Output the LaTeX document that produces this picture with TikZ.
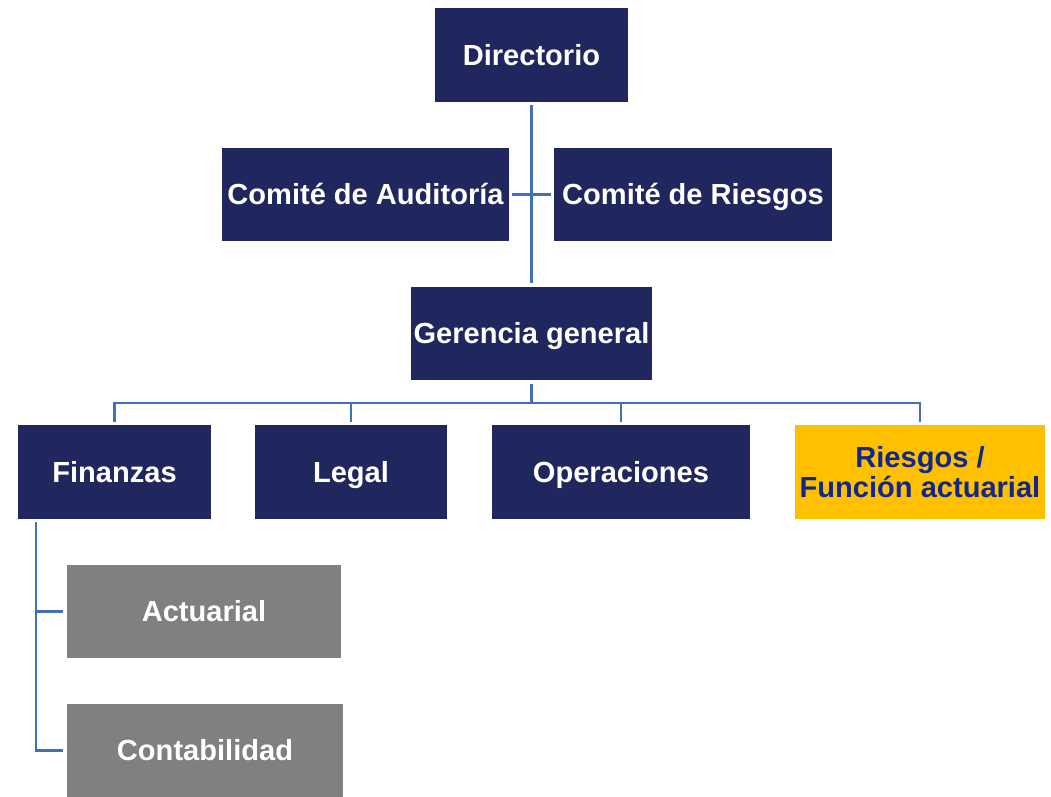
\documentclass[tikz,border=0pt]{standalone}
\usepackage{fontspec}
\setmainfont{Liberation Sans}
\definecolor{navy}{HTML}{20265E}
\definecolor{linkblue}{HTML}{4170B8}
\definecolor{boxgray}{HTML}{808080}
\definecolor{amber}{HTML}{FFC000}
\definecolor{inkblue}{HTML}{10288C}

\begin{document}
\begin{tikzpicture}[x=0.75pt,y=-0.75pt,
	box/.style={inner sep=0pt,align=center,minimum height=70pt,
		text height=16pt,text depth=0.5pt,
		font=\fontsize{21.8}{22.5}\selectfont\bfseries,text=white,fill=navy},
	subbox/.style={box,fill=boxgray},
	keybox/.style={box,fill=amber,text=inkblue,text height={},text depth={}},
	conn/.style={draw=linkblue,line width=2.2pt,shorten <=2.5pt,shorten >=2.5pt}]
	\useasboundingbox (0,0) rectangle (1051,797);
	\node[box,minimum width=145pt] (dir) at (531.5,55) {Directorio};
	\node[box,minimum width=215pt] (ca) at (365.5,194.5) {Comité de Auditoría};
	\node[box,minimum width=208pt] (cr) at (693,194.5) {Comité de Riesgos};
	\node[box,minimum width=181pt] (gg) at (531.5,333.5) {Gerencia general};
	\node[box,minimum width=145pt] (fin) at (114.5,472) {Finanzas};
	\node[box,minimum width=144pt] (legal) at (351,472) {Legal};
	\node[box,minimum width=194pt] (oper) at (621,472) {Operaciones};
	\node[keybox,minimum width=188pt] (ries) at (920,472) {Riesgos /\\Función actuarial};
	\node[subbox,minimum width=206pt] (act) at (204,611.5) {Actuarial};
	\node[subbox,minimum width=207pt] (cont) at (205,750.5) {Contabilidad};
	\coordinate (bus) at (531.5,403);
	\coordinate (sp) at (36,0);
	\draw[conn] (dir) -- (gg);
	\draw[conn] (ca) -- (cr);
	\draw[conn,shorten >=0pt] (gg) -- (bus);
	\foreach \n in {fin,legal,oper,ries}
		\draw[conn,shorten <=0pt] (bus) -| (\n);
	\draw[conn] (fin.south -| sp) |- (cont);
	\draw[conn,shorten <=0pt] (sp |- act) -- (act);
\end{tikzpicture}
\end{document}
